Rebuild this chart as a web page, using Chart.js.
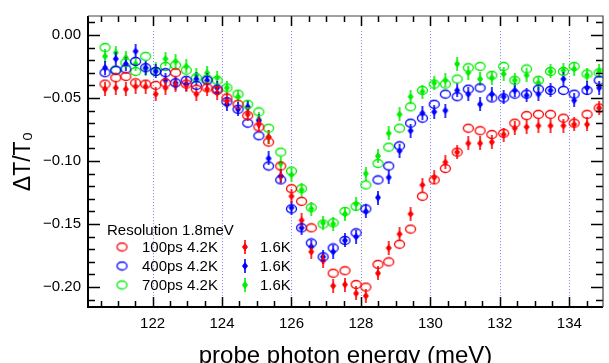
<!DOCTYPE html>
<html>
<head>
<meta charset="utf-8">
<script src="https://cdn.jsdelivr.net/npm/chart.js@4.4.0/dist/chart.umd.min.js"></script>
<style>
	html, body { margin: 0; padding: 0; background: #fff; }
	#grafico { display: block; }
</style>
</head>
<body>
<canvas id="grafico" width="609" height="363"></canvas>
<script>
// Energia do foton de prova (meV), comum a todas as series
var energia = [
	120.63, 120.94, 121.23, 121.51, 121.80, 122.09, 122.37, 122.66, 122.97, 123.26,
	123.57, 123.86, 124.14, 124.46, 124.74, 125.06, 125.34, 125.69, 126.00, 126.29,
	126.57, 126.91, 127.20, 127.54, 127.86, 128.14, 128.49, 128.80, 129.11, 129.43,
	129.77, 130.11, 130.43, 130.77, 131.09, 131.43, 131.77, 132.11, 132.43, 132.77,
	133.11, 133.46, 133.83, 134.14, 134.51, 134.86
];

// DeltaT/T0 - circulos abertos (4.2K)
var ps100_42K = [
	-0.039, -0.034, -0.033, -0.038, -0.039, -0.040, -0.038, -0.030, -0.039, -0.043,
	-0.042, -0.044, -0.050, -0.055, -0.064, -0.073, -0.085, -0.104, -0.122, -0.132,
	-0.153, null, -0.189, -0.187, -0.198, -0.200, -0.182, -0.180, -0.166, -0.154,
	-0.128, -0.115, -0.106, -0.093, -0.074, -0.076, -0.079, -0.078, -0.070, -0.064,
	-0.063, -0.063, -0.066, -0.070, -0.063, -0.058
];
var ps400_42K = [
	-0.030, -0.028, -0.027, -0.021, -0.026, -0.029, -0.030, -0.038, -0.036, -0.040,
	-0.036, -0.043, -0.053, -0.059, -0.070, -0.080, -0.104, -0.115, -0.138, -0.153,
	-0.165, -0.176, -0.169, -0.163, -0.157, -0.138, -0.115, -0.104, -0.088, -0.070,
	-0.066, -0.055, -0.047, -0.049, -0.043, -0.042, -0.050, -0.050, -0.047, -0.047,
	-0.043, -0.044, -0.044, -0.047, -0.044, -0.036
];
var ps700_42K = [
	-0.010, -0.028, -0.022, -0.029, -0.017, -0.029, -0.025, -0.024, -0.028, -0.034,
	-0.035, -0.036, -0.042, -0.047, -0.055, -0.061, -0.074, -0.093, -0.108, -0.122,
	-0.137, -0.150, -0.149, -0.140, -0.136, -0.119, -0.102, -0.089, -0.074, -0.057,
	-0.044, -0.039, -0.039, -0.035, -0.026, -0.025, -0.032, -0.025, -0.036, -0.027,
	-0.036, -0.029, -0.029, -0.025, -0.031, -0.030
];

// DeltaT/T0 - simbolos cheios (1.6K)
var ps100_16K = [
	-0.043, -0.042, -0.043, -0.041, -0.041, -0.047, -0.042, -0.040, -0.040, -0.047,
	-0.043, -0.046, -0.052, null, -0.063, -0.071, -0.081, -0.112, -0.128, -0.147,
	-0.172, -0.179, -0.199, -0.198, -0.205, -0.207, -0.189, -0.169, -0.158, -0.142,
	-0.119, -0.113, -0.101, -0.093, -0.086, -0.086, -0.085, -0.079, -0.074, -0.073,
	-0.072, -0.072, -0.072, -0.071, -0.071, -0.058
];
var ps400_16K = [
	-0.026, -0.019, -0.023, -0.013, -0.026, -0.029, -0.036, -0.038, -0.039, -0.035,
	-0.036, -0.042, -0.055, -0.059, -0.057, -0.068, -0.098, -0.112, -0.137, -0.153,
	-0.168, -0.176, -0.172, -0.163, -0.160, -0.140, -0.129, -0.113, -0.092, -0.076,
	-0.062, -0.061, -0.060, -0.044, -0.047, -0.055, -0.047, -0.049, -0.044, -0.048,
	-0.047, -0.044, -0.035, -0.052, -0.042, -0.042
];
var ps700_16K = [
	-0.017, -0.014, -0.018, -0.023, -0.027, -0.027, -0.019, -0.021, -0.025, -0.032,
	-0.030, -0.034, -0.042, -0.049, -0.058, -0.067, -0.081, -0.102, -0.111, -0.123,
	-0.138, -0.149, -0.150, -0.142, -0.134, -0.110, -0.096, -0.078, -0.063, -0.049,
	-0.045, -0.038, -0.036, -0.023, -0.030, -0.035, -0.034, -0.031, -0.036, -0.032,
	-0.038, -0.029, -0.028, -0.027, -0.032, -0.029
];

// Eixos
var ticksX = [122, 124, 126, 128, 130, 132, 134];
var rotulosX = ["122", "124", "126", "128", "130", "132", "134"];
var ticksY = [-0.20, -0.15, -0.10, -0.05, 0.00];
var rotulosY = ["\u22120.20", "\u22120.15", "\u22120.10", "\u22120.05", "0.00"];
var tituloX = "probe photon energy (meV)";
var tituloY = "\u0394T/T\u2080";

// Legenda
var legendaTitulo = "Resolution 1.8meV";
var legendaAbertos = ["100ps 4.2K", "400ps 4.2K", "700ps 4.2K"];
var legendaCheios = ["1.6K", "1.6K", "1.6K"];

var cores = ["#ff0000", "#0000ff", "#00ee00"];
var fonte = "'Liberation Sans', Arial, sans-serif";

// Desenha o circulo aberto (um pouco achatado, como no original)
function circuloAberto(cor) {
	var c = document.createElement("canvas");
	c.width = 13;
	c.height = 11;
	var ctx = c.getContext("2d");
	ctx.strokeStyle = cor;
	ctx.lineWidth = 1.3;
	ctx.beginPath();
	ctx.ellipse(6.5, 5.5, 5, 4, 0, 0, 2 * Math.PI);
	ctx.stroke();
	return c;
}

// Desenha o losango cheio com barra vertical
function losangoCheio(cor) {
	var c = document.createElement("canvas");
	c.width = 8;
	c.height = 14;
	var ctx = c.getContext("2d");
	ctx.fillStyle = cor;
	ctx.strokeStyle = cor;
	ctx.lineWidth = 1.6;
	ctx.beginPath();
	ctx.moveTo(4, 0);
	ctx.lineTo(4, 14);
	ctx.stroke();
	ctx.beginPath();
	ctx.moveTo(4, 3);
	ctx.lineTo(7, 7);
	ctx.lineTo(4, 11);
	ctx.lineTo(1, 7);
	ctx.closePath();
	ctx.fill();
	return c;
}

var simbolosAbertos = cores.map(circuloAberto);
var simbolosCheios = cores.map(losangoCheio);

function pontos(valores) {
	var lista = [];
	for (var i = 0; i < energia.length; i++) {
		if (valores[i] !== null) lista.push({ x: energia[i], y: valores[i] });
	}
	return lista;
}

var series = [ps100_42K, ps400_42K, ps700_42K];
var seriesCheias = [ps100_16K, ps400_16K, ps700_16K];
var datasets = [];
for (var i = 0; i < 3; i++) {
	datasets.push({
		label: legendaAbertos[i],
		data: pontos(series[i]),
		pointStyle: simbolosAbertos[i],
		pointRadius: 5,
		showLine: false,
	});
}
for (var i = 0; i < 3; i++) {
	datasets.push({
		label: legendaCheios[i],
		data: pontos(seriesCheias[i]),
		pointStyle: simbolosCheios[i],
		pointRadius: 5,
		showLine: false,
	});
}

// Linhas pontilhadas verticais, marcas internas, moldura e legenda
var decoracao = {
	id: "decoracao",
	beforeDatasetsDraw: function (chart) {
		var ctx = chart.ctx;
		var x = chart.scales.x;
		var y = chart.scales.y;
		var topo = y.getPixelForValue(0.003);
		var base = y.getPixelForValue(-0.207);
		ctx.save();
		ctx.strokeStyle = "rgba(90,90,255,0.8)";
		ctx.lineWidth = 1;
		ctx.setLineDash([1, 2]);
		ticksX.forEach(function (v) {
			var px = Math.round(x.getPixelForValue(v)) + 0.5;
			ctx.beginPath();
			ctx.moveTo(px, topo);
			ctx.lineTo(px, base);
			ctx.stroke();
		});
		ctx.restore();
	},
	afterDraw: function (chart) {
		var ctx = chart.ctx;
		var a = chart.chartArea;
		var x = chart.scales.x;
		var y = chart.scales.y;
		ctx.save();
		ctx.strokeStyle = "#000";
		ctx.lineWidth = 1.5;

		// marcas do eixo x (menores a cada 0.5 meV)
		for (var v = Math.ceil(x.min * 2) / 2; v <= x.max; v += 0.5) {
			var px = Math.round(x.getPixelForValue(v)) + 0.5;
			var maior = ticksX.indexOf(v) >= 0;
			var t = maior ? 10 : 6;
			ctx.beginPath();
			ctx.moveTo(px, a.bottom);
			ctx.lineTo(px, a.bottom - t);
			ctx.moveTo(px, a.top);
			ctx.lineTo(px, a.top + t);
			ctx.stroke();
		}
		// marcas do eixo y (menores a cada 0.01)
		for (var k = Math.ceil(y.min * 100); k <= Math.floor(y.max * 100); k++) {
			var py = Math.round(y.getPixelForValue(k / 100)) + 0.5;
			var t = k % 5 === 0 ? 12 : 7;
			ctx.beginPath();
			ctx.moveTo(a.left, py);
			ctx.lineTo(a.left + t, py);
			ctx.moveTo(a.right, py);
			ctx.lineTo(a.right - t, py);
			ctx.stroke();
		}

		// moldura
		ctx.lineWidth = 2;
		ctx.beginPath();
		ctx.moveTo(a.left, a.top);
		ctx.lineTo(a.left, a.bottom);
		ctx.lineTo(a.right, a.bottom);
		ctx.stroke();
		ctx.lineWidth = 1.2;
		ctx.strokeStyle = "#444";
		ctx.beginPath();
		ctx.moveTo(a.left, a.top);
		ctx.lineTo(a.right, a.top);
		ctx.lineTo(a.right, a.bottom);
		ctx.stroke();

		// legenda
		ctx.fillStyle = "#000";
		ctx.font = "15px " + fonte;
		ctx.textAlign = "left";
		ctx.textBaseline = "alphabetic";
		ctx.fillText(legendaTitulo, 107, 235);
		ctx.textBaseline = "middle";
		var linhas = [247, 266, 285];
		for (var i = 0; i < 3; i++) {
			var sa = simbolosAbertos[i];
			var sc = simbolosCheios[i];
			ctx.drawImage(sa, 122 - sa.width / 2, linhas[i] - sa.height / 2);
			ctx.fillText(legendaAbertos[i], 142, linhas[i] + 1);
			ctx.drawImage(sc, 245 - sc.width / 2, linhas[i] - sc.height / 2);
			ctx.fillText(legendaCheios[i], 260, linhas[i] + 1);
		}
		ctx.restore();
	},
};

new Chart(document.getElementById("grafico"), {
	type: "scatter",
	data: { datasets: datasets },
	options: {
		responsive: false,
		animation: false,
		devicePixelRatio: 1,
		layout: { padding: { left: 0, right: 2, top: 15, bottom: 0 } },
		plugins: {
			legend: { display: false },
			tooltip: { enabled: false },
		},
		scales: {
			x: {
				type: "linear",
				min: 120.14,
				max: 134.97,
				afterBuildTicks: function (scale) {
					scale.ticks = ticksX.map(function (v) {
						return { value: v };
					});
				},
				afterFit: function (scale) {
					scale.height = 56;
				},
				grid: { display: false, drawTicks: false },
				border: { display: false },
				ticks: {
					padding: 8,
					color: "#000",
					font: { family: fonte, size: 15 },
					maxRotation: 0,
					callback: function (valor, indice) {
						return rotulosX[indice];
					},
				},
				title: {
					display: true,
					text: tituloX,
					color: "#000",
					font: { family: fonte, size: 24 },
					padding: { top: 0, bottom: -8 },
				},
			},
			y: {
				type: "linear",
				min: -0.2158,
				max: 0.015,
				afterBuildTicks: function (scale) {
					scale.ticks = ticksY.map(function (v) {
						return { value: v };
					});
				},
				afterFit: function (scale) {
					scale.width = 88;
				},
				grid: { display: false, drawTicks: false },
				border: { display: false },
				ticks: {
					padding: 7,
					color: "#000",
					font: { family: fonte, size: 15 },
					callback: function (valor, indice) {
						return rotulosY[indice];
					},
				},
				title: {
					display: true,
					text: tituloY,
					color: "#000",
					font: { family: fonte, size: 23 },
					padding: { top: 10, bottom: 0 },
				},
			},
		},
	},
	plugins: [decoracao],
});
</script>
</body>
</html>
